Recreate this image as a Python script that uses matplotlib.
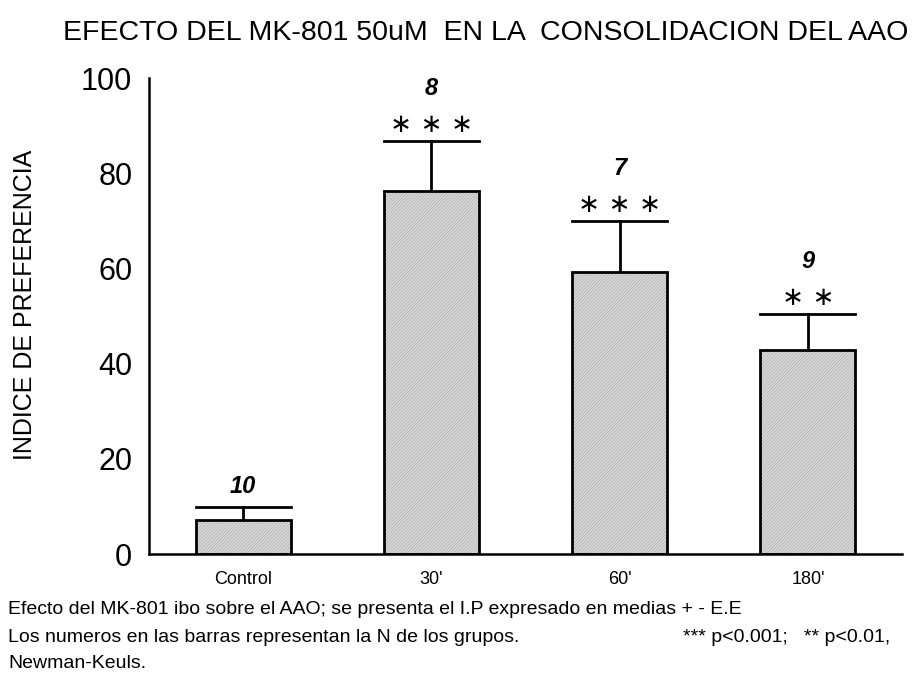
import matplotlib
matplotlib.use("Agg")
import matplotlib.pyplot as plt

# datos
grupos = ["Control", "30'", "60'", "180'"]
medias = [7.1, 76.3, 59.2, 42.9]
errores = [2.8, 10.5, 10.8, 7.5]
n_grupos = ["10", "8", "7", "9"]
signif = ["", "∗ ∗ ∗", "∗ ∗ ∗", "∗ ∗"]

plt.rcParams['font.family'] = ['Liberation Sans', 'DejaVu Sans']
plt.rcParams['hatch.linewidth'] = 0.5

fig = plt.figure(figsize=(9.13, 6.8), dpi=100)
ax = fig.add_axes([149/913, 1-554/680, 753/913, 476/680])

x = range(len(grupos))
# relleno gris con trama fina, luego el contorno negro
ax.bar(x, medias, width=0.505, color='#d8d8d8', edgecolor='#b0b0b0',
       linewidth=0, hatch='//////////', zorder=2)
ax.bar(x, medias, width=0.505, fill=False, edgecolor='black',
       linewidth=2, zorder=3)
for i in x:
    tope = medias[i] + errores[i]
    ax.plot([i, i], [medias[i], tope], color='black', lw=2, zorder=1)
    ax.plot([i-0.2525, i+0.2525], [tope, tope], color='black', lw=2, zorder=1)
    if signif[i]:
        ax.text(i, tope + 3.4, signif[i], ha='center', va='center',
                fontsize=19, family=['DejaVu Sans'])
        ax.text(i, tope + 11, n_grupos[i], ha='center', va='center',
                fontsize=17, fontstyle='italic', fontweight='bold')
    else:
        ax.text(i, tope + 4.2, n_grupos[i], ha='center', va='center',
                fontsize=17, fontstyle='italic', fontweight='bold')

ax.set_xlim(-0.5, 3.5)
ax.set_ylim(0, 100)
ax.set_yticks([0, 20, 40, 60, 80, 100])
ax.set_xticks(list(x))
ax.set_xticklabels(grupos, fontsize=13)
ax.tick_params(axis='y', length=0, labelsize=22, pad=12)
ax.tick_params(axis='x', length=0, pad=12)
for s in ['top', 'right']:
    ax.spines[s].set_visible(False)
ax.spines['left'].set_linewidth(1.8)
ax.spines['bottom'].set_linewidth(1.8)

fig.text(25/913, 1-305/680, "INDICE DE PREFERENCIA", rotation=90,
         ha='center', va='center', fontsize=18)
fig.text(486/913, 1-33/680, "EFECTO DEL MK-801 50uM  EN LA  CONSOLIDACION DEL AAO",
         ha='center', va='center', fontsize=20.5)

fig.text(8/913, 1-610/680,
         "Efecto del MK-801 ibo sobre el AAO; se presenta el I.P expresado en medias + - E.E",
         ha='left', va='center', fontsize=14)
fig.text(8/913, 1-637/680,
         "Los numeros en las barras representan la N de los grupos.", ha='left',
         va='center', fontsize=14)
fig.text(683/913, 1-637/680, "*** p<0.001;   ** p<0.01,", ha='left',
         va='center', fontsize=14)
fig.text(8/913, 1-664/680, "Newman-Keuls.", ha='left', va='center', fontsize=14)

fig.savefig("out.png", dpi=100)
